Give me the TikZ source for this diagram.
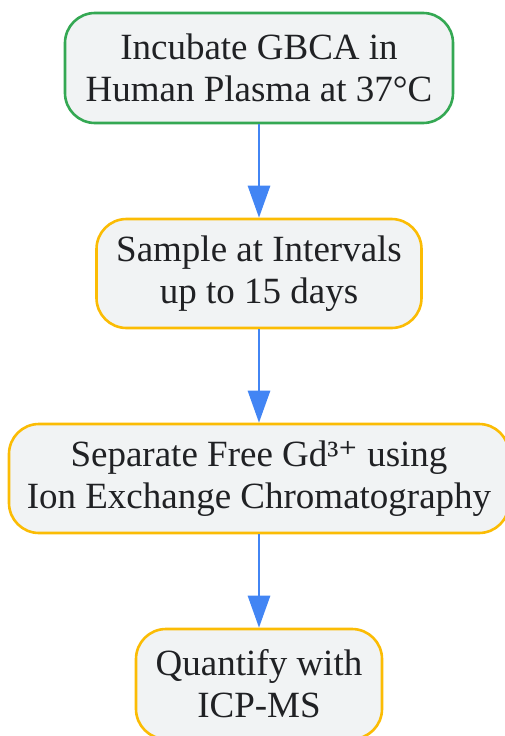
\documentclass[tikz,border=0pt]{standalone}
\usepackage{fontspec}
\setmainfont{Liberation Serif}
\newfontfamily\supfont{DejaVu Serif}
\usetikzlibrary{arrows.meta}
\definecolor{boxfill}{RGB}{241,243,244}
\definecolor{startline}{RGB}{52,168,83}
\definecolor{stepline}{RGB}{251,188,4}
\definecolor{flowblue}{RGB}{66,133,244}
\definecolor{inktext}{RGB}{32,33,36}
\begin{document}
\begin{tikzpicture}[x=1pt,y=1pt]
            \tikzstyle{every node}+=[inner sep=0pt]
            \tikzstyle{stepbox}=[draw=stepline, line width=2.6pt, fill=boxfill, rounded corners=30pt, align=center, text=inktext, font=\fontsize{37}{42}\selectfont]
            \tikzstyle{startbox}=[stepbox, draw=startline]
            \tikzstyle{flow}=[draw=flowblue, line width=2.8pt, -{Triangle[length=32pt,width=22pt]}]
            \useasboundingbox (0,0) rectangle (505,-736);
            \node [startbox, minimum width=388pt, minimum height=110pt] (incubate) at (259,-68) {Incubate GBCA in\\Human Plasma at 37°C};
            \node [stepbox, minimum width=325pt, minimum height=109pt] (sample) at (259,-273.5) {Sample at Intervals\\up to 15 days};
            \node [stepbox, minimum width=500pt, minimum height=109pt] (separate) at (259,-478.5) {Separate Free Gd³{\supfont ⁺} using\\Ion Exchange Chromatography};
            \node [stepbox, minimum width=246pt, minimum height=110pt] (quantify) at (259,-684) {Quantify with\\ICP-MS};
            \draw [flow] (incubate) -- (sample);
            \draw [flow] (sample) -- (separate);
            \draw [flow] (separate) -- (quantify);
        \end{tikzpicture}
\end{document}
